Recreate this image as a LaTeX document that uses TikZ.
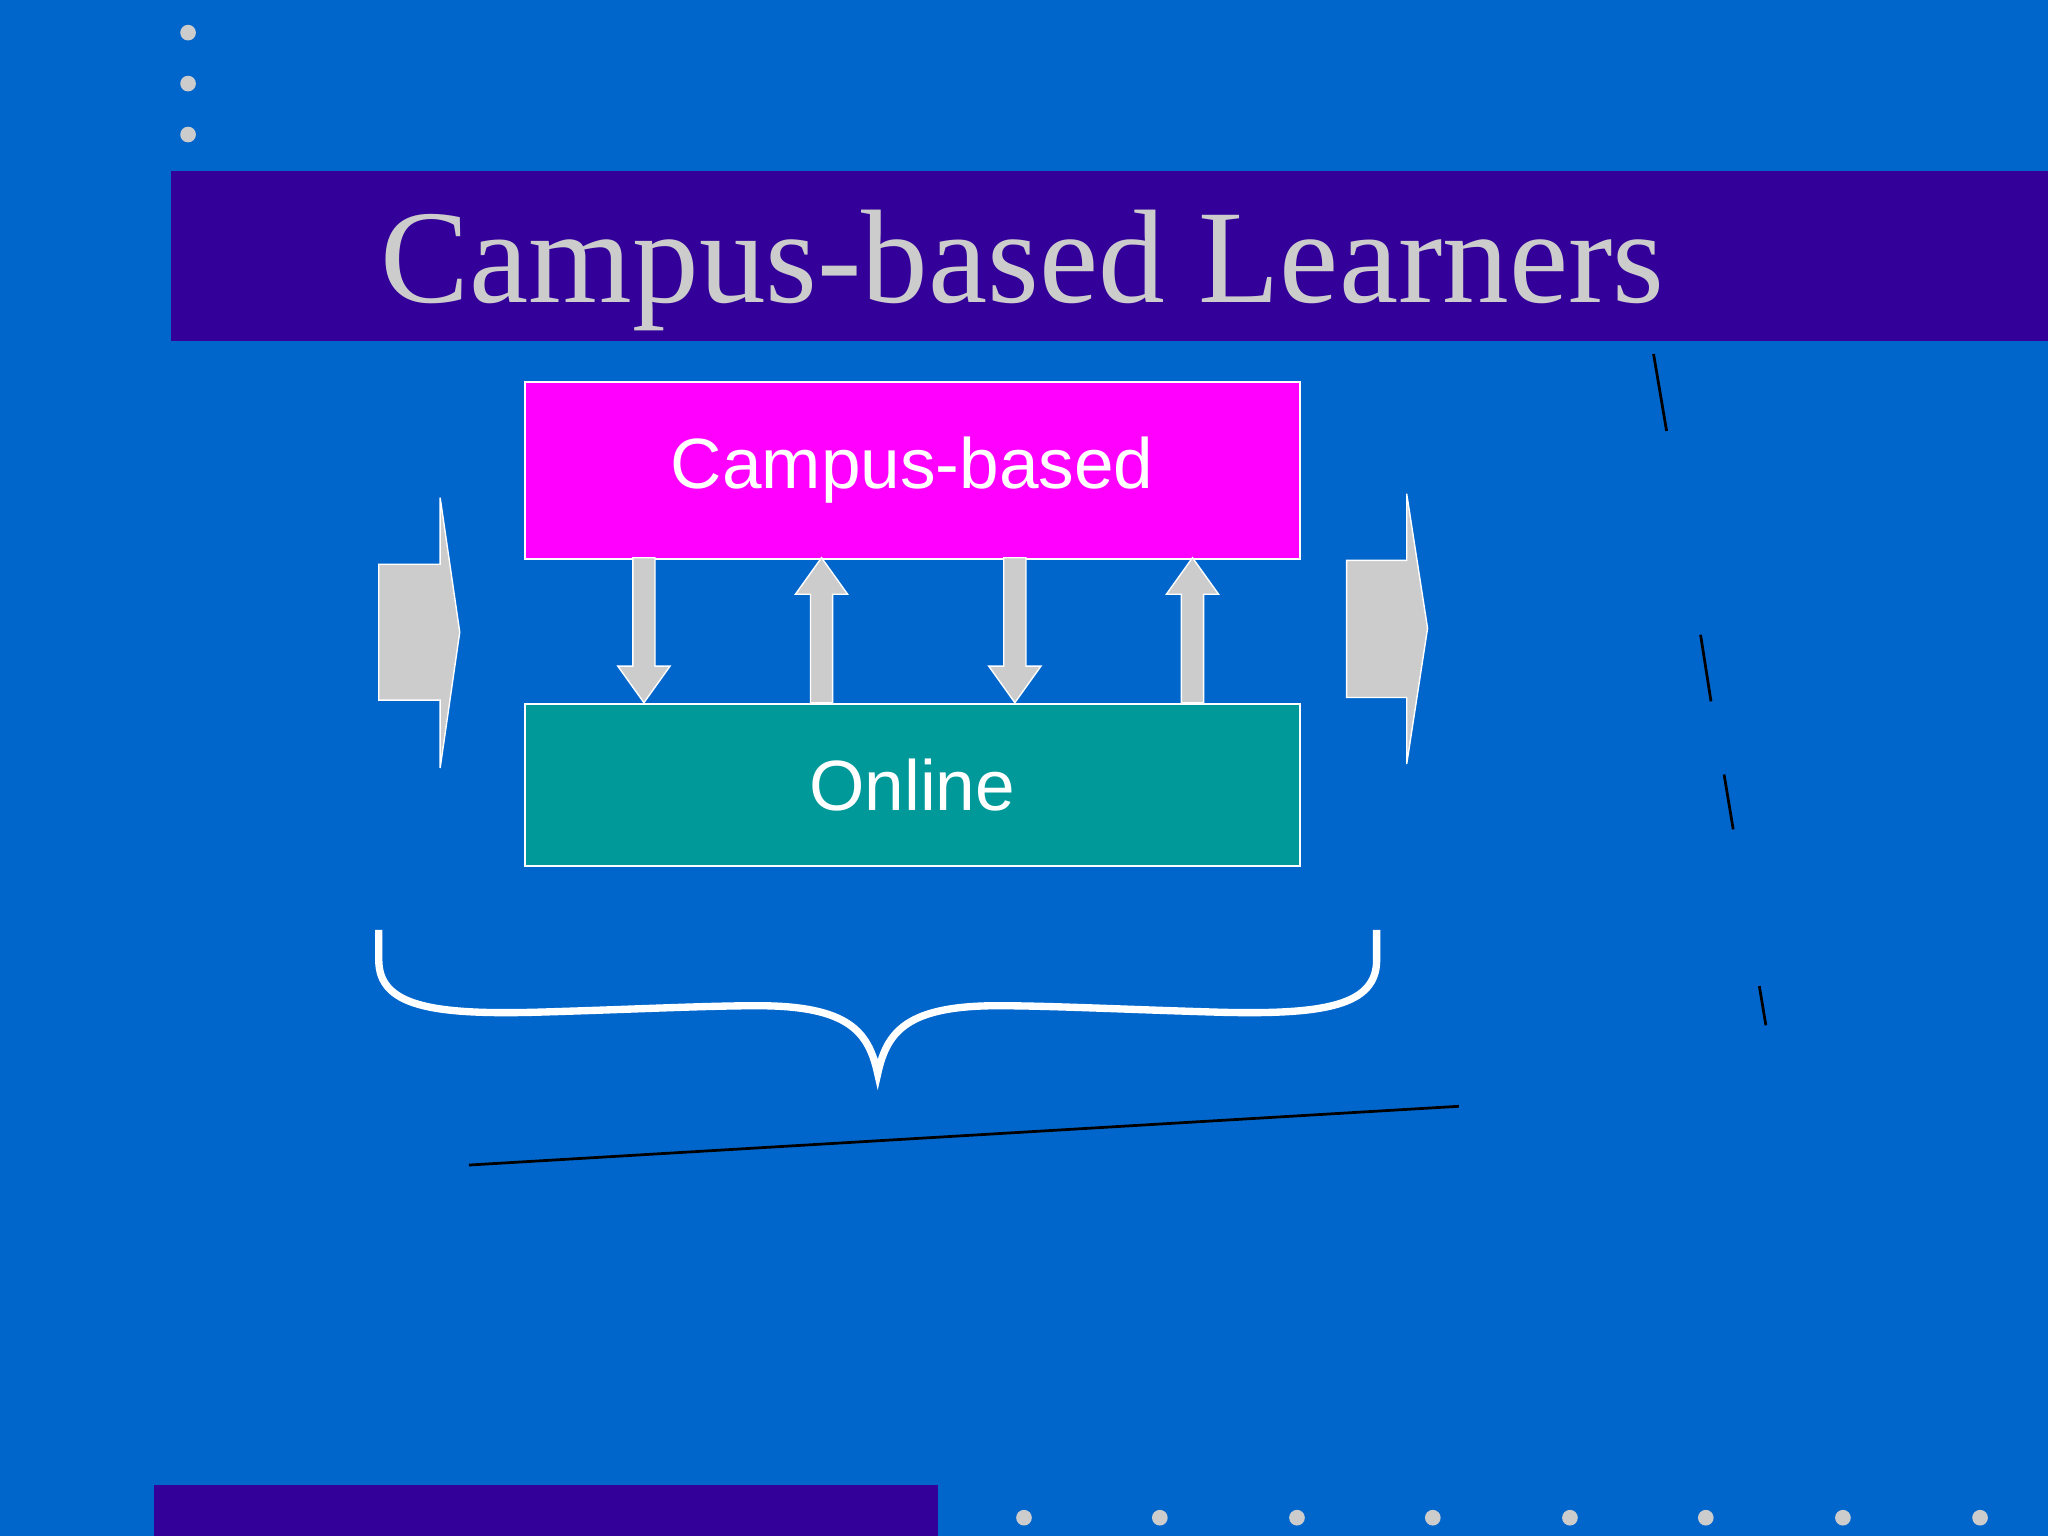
\documentclass[tikz,border=0pt]{standalone}
\usepackage{fontspec}
\setmainfont{Liberation Serif}
\setsansfont{Liberation Sans}
\definecolor{bg}{RGB}{0,102,204}
\definecolor{bar}{RGB}{51,0,153}
\definecolor{lg}{RGB}{204,204,204}
\definecolor{mag}{RGB}{255,0,255}
\definecolor{teal2}{RGB}{0,153,153}
\begin{document}
\begin{tikzpicture}[x=0.01cm,y=-0.01cm,
  dot/.style={fill=lg,draw=none},
  boxs/.style={draw=white,line width=0.4pt,anchor=north west,inner sep=0pt},
  arr/.style={fill=lg,draw=white,line width=0.3pt}]
\fill[bg] (0,0) rectangle (1568,1176);
\useasboundingbox (0,0) rectangle (1568,1176);
\foreach \y in {25,64,103} \fill[dot] (144,\y) circle (6);
\fill[bar] (131,131) rectangle (1568,261);
\node[text=lg,font=\fontsize{29pt}{29pt}\selectfont] (title) at (783,207) {Campus-based Learners};
\node[boxs,fill=mag,minimum width=5.93cm,minimum height=1.35cm] (cb) at (401,292) {};
\node[text=white,font=\sffamily\fontsize{15.5pt}{15.5pt}\selectfont] (cbt) at (cb.center) {Campus-based};
\node[boxs,fill=teal2,minimum width=5.93cm,minimum height=1.24cm] (on) at (401,538) {};
\node[text=white,font=\sffamily\fontsize{15.5pt}{15.5pt}\selectfont] (ont) at (on.center) {Online};
% down arrows
\foreach \x in {493,777}
  \draw[arr] (\x-8.5,427) -- (\x+8.5,427) -- (\x+8.5,510) -- (\x+20,510) -- (\x,538) -- (\x-20,510) -- (\x-8.5,510) -- cycle;
\foreach \x in {629,913}
  \draw[arr] (\x-8.5,538) -- (\x+8.5,538) -- (\x+8.5,455) -- (\x+20,455) -- (\x,427) -- (\x-20,455) -- (\x-8.5,455) -- cycle;
% big side arrows
\draw[arr] (290,432) -- (337,432) -- (337,381) -- (352,484) -- (337,588) -- (337,536) -- (290,536) -- cycle;
\draw[arr] (1031,429) -- (1077,429) -- (1077,378) -- (1093,481) -- (1077,585) -- (1077,534) -- (1031,534) -- cycle;
% brace
\draw[white,line width=1.6pt] (290,712) -- (290,735) .. controls (290,770) and (330,777) .. (410,775)
  .. controls (480,773) and (540,770) .. (580,770) .. controls (650,770) and (665,790) .. (672,822)
  .. controls (679,790) and (694,770) .. (764,770) .. controls (804,770) and (864,773) .. (934,775)
  .. controls (1014,777) and (1054,770) .. (1054,735) -- (1054,712);
% black lines
\draw[black,line width=0.6pt] (359,892) -- (1117,847);
\draw[black,line width=0.6pt] (1266,271) -- (1276,330);
\draw[black,line width=0.6pt] (1302,486) -- (1310,537);
\draw[black,line width=0.6pt] (1320,593) -- (1327,635);
\draw[black,line width=0.6pt] (1347,755) -- (1352,785);
\fill[bar] (118,1137) rectangle (718,1176);
\foreach \x in {784,888,993,1097,1202,1306,1411,1516} \fill[dot] (\x,1162) circle (6);
\end{tikzpicture}
\end{document}
